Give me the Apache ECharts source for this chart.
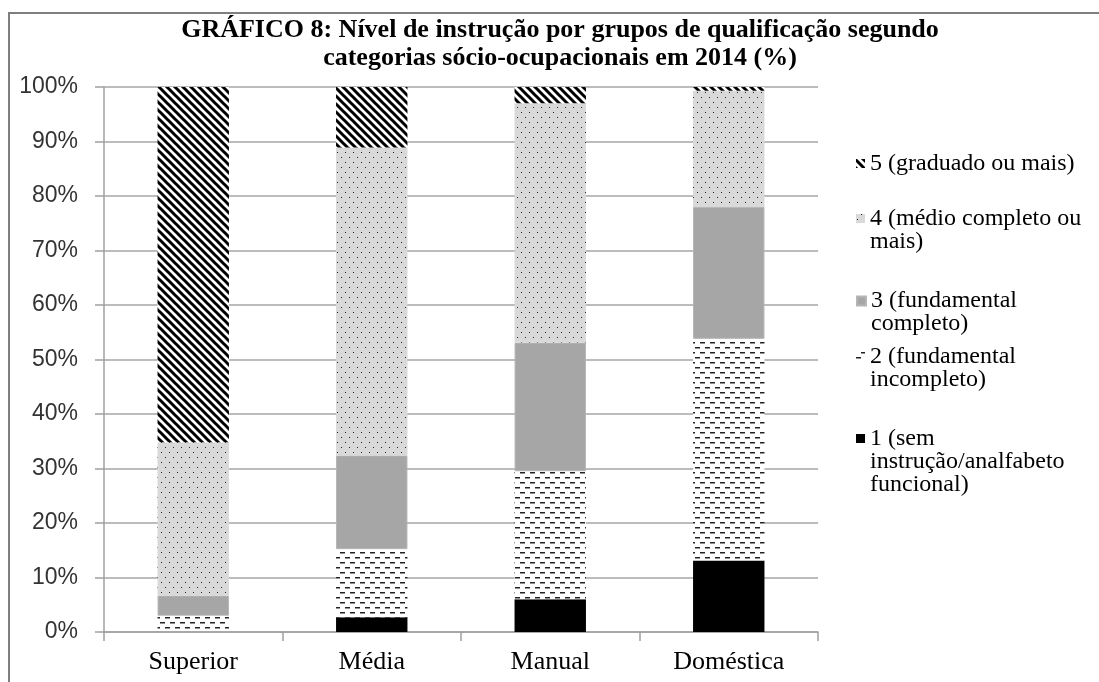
<!DOCTYPE html>
<html><head><meta charset="utf-8">
<script src="https://cdn.jsdelivr.net/npm/echarts@6/dist/echarts.min.js"></script>
<style>html,body{margin:0;padding:0;background:#fff}#c{width:1099px;height:682px}</style>
</head><body><div id="c"></div>
<script>
const categories = ['Superior', 'Média', 'Manual', 'Doméstica'];
const seriesNames = ['1 (sem\ninstrução/analfabeto\nfuncional)', '2 (fundamental\nincompleto)', '3 (fundamental\ncompleto)', '4 (médio completo ou\nmais)', '5 (graduado ou mais)'];
const level1 = [0.1, 2.7, 6.0, 13.1];
const level2 = [2.9, 12.5, 23.5, 40.7];
const level3 = [3.7, 17.2, 23.6, 24.2];
const level4 = [28.1, 56.5, 43.9, 21.3];
const level5 = [65.2, 11.1, 3.0, 0.7];
const yTicks = [0, 10, 20, 30, 40, 50, 60, 70, 80, 90, 100];

function tile(w, h, draw) {
  const c = document.createElement('canvas');
  c.width = w; c.height = h;
  const g = c.getContext('2d');
  draw(g);
  return { image: c, repeat: 'repeat' };
}
const stripes = tile(8, 8, g => {
  g.fillStyle = '#fff'; g.fillRect(0, 0, 8, 8);
  g.strokeStyle = '#000'; g.lineWidth = 3;
  for (let k = -8; k <= 8; k += 8) {
    g.beginPath(); g.moveTo(k - 2, -2); g.lineTo(k + 10, 10); g.stroke();
  }
});
const dots = tile(8, 10, g => {
  g.fillStyle = '#d9d9d9'; g.fillRect(0, 0, 8, 10);
  g.fillStyle = '#222';
  g.fillRect(1, 2, 1, 1); g.fillRect(5, 7, 1, 1);
});
const dashes = tile(10, 10, g => {
  g.fillStyle = '#fff'; g.fillRect(0, 0, 10, 10);
  g.fillStyle = '#222';
  g.fillRect(0, 2, 5, 1.5); g.fillRect(5, 7, 5, 1.5);
});
const fills = ['#000000', dashes, '#a6a6a6', dots, stripes];
const values = [level1, level2, level3, level4, level5];

const serif = 'Liberation Serif';
const series = values.map((v, i) => ({
  name: seriesNames[i], type: 'bar', stack: 'all', data: v, barWidth: '40%',
  itemStyle: { color: fills[i], borderColor: i === 2 ? '#b5b5b5' : 'transparent', borderWidth: i === 2 ? 1 : 0 },
  emphasis: { disabled: true }
}));

const legendFirstLine = [438, 356, 300, 218, 163];
const lineH = 23;
const legends = seriesNames.map((name, i) => {
  const n = name.split('\n').length;
  const h = n * lineH;
  // square icon beside the first line; bare moveTo anchors stretch the box to the full text height
  const icon = 'path://M0,0M0,' + h + 'M0,7h9v9h-9z';
  return {
    orient: 'vertical', left: 856, top: legendFirstLine[i] - lineH / 2,
    padding: 0, itemWidth: 9, itemHeight: h, itemGap: 0, selectedMode: false,
    data: [{ name: name, icon: icon }],
    textStyle: { fontFamily: serif, fontSize: 24, lineHeight: lineH, color: '#000' }
  };
});

const chart = echarts.init(document.getElementById('c'), null, { renderer: 'canvas' });
chart.setOption({
  animation: false,
  backgroundColor: '#fff',
  title: {
    text: 'GRÁFICO 8: Nível de instrução por grupos de qualificação segundo\ncategorias sócio-ocupacionais em 2014 (%)',
    left: 560, top: 16, textAlign: 'center', padding: 0,
    textStyle: { fontFamily: serif, fontWeight: 'bold', fontSize: 26, lineHeight: 28, color: '#000' }
  },
  graphic: [{ type: 'rect', z: -1, shape: { x: 9, y: 13, width: 1200, height: 800 }, style: { fill: 'none', stroke: '#7f7f7f', lineWidth: 2 } }],
  legend: legends,
  grid: { left: 104, right: 281, top: 87, bottom: 50, containLabel: false },
  xAxis: {
    type: 'category', data: categories,
    axisLine: { lineStyle: { color: '#a0a0a0', width: 1.5 } },
    axisTick: { show: true, length: 9, lineStyle: { color: '#a0a0a0', width: 1.5 } },
    axisLabel: { fontFamily: serif, fontSize: 26, color: '#000', margin: 17 }
  },
  yAxis: {
    type: 'value', min: 0, max: 100, interval: 10,
    axisLine: { show: true, lineStyle: { color: '#a0a0a0', width: 1.5 } },
    axisTick: { show: true, length: 9, lineStyle: { color: '#a0a0a0', width: 1.5 } },
    splitLine: { lineStyle: { color: '#a6a6a6', width: 1.5 } },
    axisLabel: { fontFamily: 'Liberation Sans', fontSize: 23, color: '#333', margin: 26,
      formatter: v => (yTicks.indexOf(v) >= 0 ? v + '%' : '') }
  },
  series: series
});
</script></body></html>
